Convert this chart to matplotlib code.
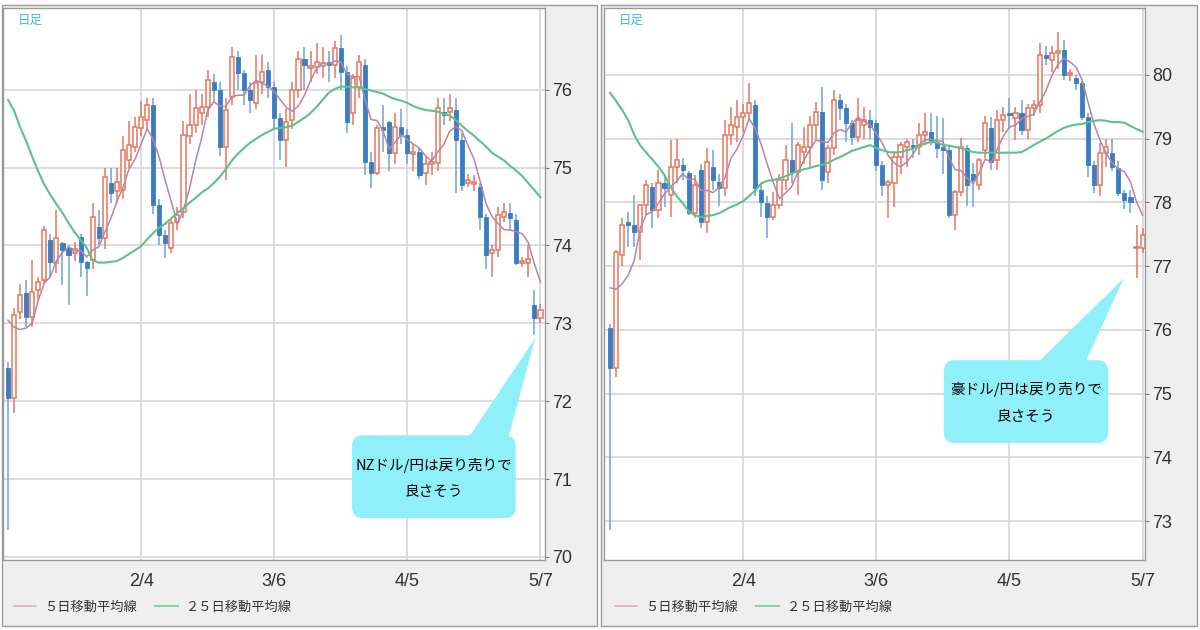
import numpy as np
import pandas as pd
import matplotlib
matplotlib.use("Agg")
import matplotlib.pyplot as plt
from matplotlib import font_manager
from matplotlib.patches import Rectangle, FancyBboxPatch, Polygon

plt.rcParams['font.family'] = ['Noto Sans CJK JP', 'DejaVu Sans']

# business days shown on both charts (2019-01-03 .. 2019-05-07)
dates = pd.bdate_range('2019-01-03', '2019-05-07')
tick_dates = ['2019-02-04', '2019-03-06', '2019-04-05', '2019-05-07']
tick_labels = ['2/4', '3/6', '4/5', '5/7']
legend_labels = ['５日移動平均線', '２５日移動平均線']

# NZD/JPY daily candles
nz_open = [72.43, 72.04, 73.15, 73.39, 73.08, 73.43, 73.56, 74.07, 73.78, 74.03,
           73.97, 73.90, 74.11, 73.79, 73.81, 74.24, 74.10, 74.80, 74.70, 74.71,
           75.10, 75.27, 75.51, 75.61, 75.81, 74.52, 74.14, 73.97, 74.30, 74.43,
           75.40, 75.55, 75.70, 75.78, 76.10, 76.00, 75.27, 75.91, 76.42, 76.22,
           76.00, 75.83, 76.10, 76.26, 76.04, 75.64, 75.36, 75.61, 76.00, 76.39,
           76.28, 76.29, 76.30, 76.36, 76.32, 76.54, 76.23, 75.70, 76.03, 76.32,
           75.07, 74.93, 75.52, 75.58, 75.19, 75.52, 75.42, 75.18, 75.20, 74.93,
           75.04, 75.06, 75.72, 75.71, 75.74, 75.36, 74.80, 74.79, 74.75, 74.37,
           73.90, 73.94, 74.37, 74.42, 74.33, 73.77, 73.78, 73.24, 73.07]
nz_high = [72.50, 73.20, 73.50, 73.55, 73.81, 73.60, 74.25, 74.15, 74.46, 74.05,
           74.00, 74.05, 74.15, 73.80, 74.55, 74.45, 75.00, 75.00, 75.00, 75.40,
           75.60, 75.65, 75.85, 75.90, 75.90, 74.60, 74.20, 74.35, 74.50, 75.60,
           75.95, 76.00, 75.95, 76.25, 76.20, 76.10, 75.90, 76.55, 76.50, 76.25,
           76.10, 76.45, 76.45, 76.35, 76.10, 75.70, 75.75, 76.10, 76.50, 76.55,
           76.50, 76.60, 76.55, 76.50, 76.62, 76.70, 76.30, 76.20, 76.45, 76.40,
           75.20, 75.55, 75.80, 75.60, 75.70, 75.75, 75.50, 75.30, 75.25, 75.15,
           75.20, 75.90, 75.90, 75.95, 75.90, 75.45, 74.92, 74.90, 74.80, 74.40,
           74.00, 74.50, 74.55, 74.55, 74.40, 73.85, 74.00, 73.43, 73.25]
nz_low = [70.34, 71.85, 73.05, 72.95, 72.95, 73.30, 73.50, 73.60, 73.65, 73.49,
          73.24, 73.80, 73.60, 73.35, 73.70, 74.00, 73.95, 74.55, 74.55, 74.60,
          75.00, 75.20, 75.40, 75.50, 74.40, 74.00, 73.84, 73.90, 74.20, 74.35,
          75.30, 75.45, 75.55, 75.65, 75.85, 75.15, 74.84, 75.80, 76.00, 75.80,
          75.70, 75.75, 75.95, 75.90, 75.50, 75.10, 75.01, 75.50, 75.90, 76.00,
          76.10, 76.20, 76.15, 76.10, 76.15, 76.00, 75.45, 75.55, 75.90, 74.90,
          74.74, 74.90, 75.20, 74.95, 75.05, 75.30, 75.05, 74.95, 74.85, 74.78,
          74.90, 74.95, 75.55, 75.60, 74.68, 74.70, 74.75, 74.70, 74.20, 73.70,
          73.60, 73.85, 74.30, 74.20, 73.75, 73.72, 73.60, 72.85, 73.00]
nz_close = [72.04, 73.11, 73.37, 73.08, 73.40, 73.53, 74.20, 73.79, 74.10, 73.94,
            73.88, 73.95, 73.79, 73.71, 74.37, 74.10, 74.88, 74.68, 74.82, 75.23,
            75.29, 75.52, 75.65, 75.81, 74.52, 74.14, 74.03, 74.29, 74.39, 75.42,
            75.55, 75.77, 75.78, 76.13, 76.00, 75.27, 75.74, 76.42, 76.22, 76.00,
            75.87, 76.09, 76.23, 76.04, 75.64, 75.36, 75.58, 76.00, 76.39, 76.32,
            76.31, 76.35, 76.34, 76.32, 76.54, 76.23, 75.58, 76.15, 76.36, 75.07,
            74.93, 75.51, 75.48, 75.19, 75.52, 75.42, 75.19, 75.20, 74.91, 75.04,
            75.07, 75.77, 75.68, 75.77, 75.36, 74.78, 74.84, 74.82, 74.37, 73.88,
            73.94, 74.39, 74.43, 74.35, 73.78, 73.80, 73.82, 73.07, 73.17]
nz_ma5_head = [73.04, 72.95, 72.92, 72.94]   # MA5 before 5 closes are on screen
nz_ma25 = [75.87, 75.73, 75.52, 75.34, 75.14, 74.95, 74.78, 74.65, 74.53, 74.42,
           74.29, 74.17, 74.07, 73.97, 73.81, 73.78, 73.78, 73.79, 73.80, 73.84,
           73.89, 73.94, 73.99, 74.08, 74.16, 74.23, 74.28, 74.35, 74.42, 74.48,
           74.55, 74.61, 74.68, 74.73, 74.80, 74.88, 74.98, 75.09, 75.18, 75.25,
           75.32, 75.37, 75.42, 75.46, 75.50, 75.51, 75.52, 75.54, 75.59, 75.64,
           75.70, 75.78, 75.87, 75.96, 76.01, 76.04, 76.04, 76.03, 76.03, 76.01,
           75.99, 75.97, 75.95, 75.91, 75.88, 75.86, 75.83, 75.79, 75.76, 75.74,
           75.73, 75.72, 75.69, 75.67, 75.61, 75.54, 75.47, 75.41, 75.34, 75.27,
           75.19, 75.14, 75.09, 75.02, 74.96, 74.89, 74.80, 74.71, 74.62]
nz_yticks = [70, 71, 72, 73, 74, 75, 76]

# AUD/JPY daily candles
au_open = [76.03, 75.41, 77.17, 77.70, 77.64, 77.53, 77.96, 78.24, 77.88, 78.30,
           78.11, 78.56, 78.59, 78.46, 77.83, 78.51, 77.69, 78.56, 78.32, 78.23,
           79.06, 79.18, 79.34, 79.40, 79.53, 78.19, 77.99, 77.77, 77.96, 78.35,
           78.66, 78.48, 78.79, 78.87, 79.22, 79.42, 78.48, 78.85, 79.61, 79.48,
           79.25, 79.03, 79.22, 79.30, 79.25, 78.59, 78.27, 78.30, 78.71, 78.87,
           78.90, 78.87, 79.06, 79.11, 78.95, 78.87, 78.82, 77.80, 78.16, 78.85,
           78.45, 78.27, 78.82, 79.17, 78.66, 79.29, 79.38, 79.32, 79.40, 79.13,
           79.48, 79.53, 80.31, 80.24, 80.35, 80.39, 80.00, 79.95, 79.87, 79.34,
           78.59, 78.27, 78.78, 78.78, 78.54, 78.15, 78.08, 77.28, 77.28]
au_high = [76.10, 77.25, 77.75, 77.85, 78.12, 77.98, 78.35, 78.30, 78.51, 78.40,
           78.98, 79.00, 78.70, 78.50, 78.43, 78.60, 78.85, 78.82, 78.45, 79.29,
           79.50, 79.61, 79.55, 79.87, 79.60, 78.30, 78.10, 78.16, 78.45, 78.90,
           79.25, 78.95, 79.18, 79.35, 79.58, 79.81, 78.90, 79.77, 79.70, 79.55,
           79.30, 79.64, 79.50, 79.45, 79.30, 78.65, 78.35, 78.80, 78.95, 79.00,
           79.00, 79.25, 79.40, 79.40, 79.35, 79.32, 78.90, 78.20, 79.01, 78.90,
           78.62, 78.70, 79.35, 79.34, 79.45, 79.50, 79.64, 79.50, 79.61, 79.55,
           79.60, 80.50, 80.45, 80.45, 80.68, 80.55, 80.10, 80.00, 79.90, 79.40,
           78.65, 78.93, 79.00, 79.00, 78.65, 78.20, 78.20, 77.64, 77.60]
au_low = [72.86, 75.26, 77.00, 77.30, 77.30, 77.10, 77.80, 77.60, 77.75, 77.93,
          77.77, 78.30, 78.35, 77.80, 77.75, 77.60, 77.52, 78.20, 77.95, 78.10,
          78.90, 78.95, 79.10, 79.30, 78.10, 77.77, 77.44, 77.72, 77.90, 78.20,
          78.30, 78.12, 78.60, 78.55, 79.00, 78.20, 78.30, 78.75, 79.30, 78.95,
          78.90, 78.95, 79.00, 79.00, 78.50, 78.10, 77.75, 77.93, 78.45, 78.55,
          78.70, 78.75, 78.90, 78.90, 78.70, 78.45, 77.75, 77.56, 78.10, 77.95,
          77.93, 78.20, 78.70, 78.51, 78.51, 79.10, 79.15, 78.98, 79.05, 79.00,
          79.35, 79.40, 80.15, 80.05, 80.10, 79.92, 79.90, 79.76, 79.30, 78.40,
          78.15, 78.10, 78.55, 78.50, 78.10, 77.90, 77.83, 76.81, 77.20]
au_close = [75.41, 77.22, 77.64, 77.65, 77.53, 77.96, 78.27, 77.88, 78.30, 78.23,
            78.56, 78.66, 78.51, 77.83, 78.27, 77.69, 78.63, 78.35, 78.23, 79.06,
            79.22, 79.34, 79.40, 79.56, 78.23, 78.00, 77.77, 77.96, 78.35, 78.66,
            78.48, 78.90, 78.87, 79.22, 79.42, 78.35, 78.85, 79.61, 79.48, 79.25,
            79.03, 79.30, 79.30, 79.18, 78.59, 78.27, 78.32, 78.71, 78.90, 78.95,
            78.87, 79.06, 79.11, 78.95, 78.85, 78.82, 77.80, 78.16, 78.87, 78.27,
            78.35, 78.66, 79.25, 78.63, 79.29, 79.37, 79.37, 79.40, 79.13, 79.48,
            79.53, 80.31, 80.27, 80.35, 80.37, 80.00, 80.03, 79.87, 79.34, 78.59,
            78.27, 78.78, 78.87, 78.56, 78.15, 78.04, 78.00, 77.30, 77.49]
au_ma5_head = [76.66, 76.64, 76.72, 76.86]
au_ma25 = [79.72, 79.59, 79.45, 79.29, 79.06, 78.89, 78.78, 78.67, 78.56, 78.43,
           78.24, 78.10, 77.99, 77.86, 77.80, 77.77, 77.79, 77.80, 77.83, 77.88,
           77.93, 77.97, 78.02, 78.10, 78.19, 78.30, 78.34, 78.35, 78.38, 78.41,
           78.45, 78.49, 78.52, 78.54, 78.57, 78.59, 78.62, 78.67, 78.71, 78.76,
           78.81, 78.84, 78.87, 78.90, 78.85, 78.82, 78.79, 78.78, 78.79, 78.82,
           78.84, 78.89, 78.92, 78.95, 78.94, 78.90, 78.89, 78.87, 78.85, 78.82,
           78.79, 78.78, 78.78, 78.78, 78.78, 78.78, 78.78, 78.78, 78.79, 78.84,
           78.90, 78.95, 79.00, 79.06, 79.12, 79.17, 79.20, 79.22, 79.23, 79.26,
           79.28, 79.29, 79.28, 79.26, 79.26, 79.25, 79.20, 79.15, 79.11]
au_yticks = [73, 74, 75, 76, 77, 78, 79, 80]

# colours
UP_COL = '#e5775f'
DN_COL = '#3a7dc0'
DN_WICK = '#6ea3d8'
MA5_COL = '#b884a8'
MA25_COL = '#5cc28c'
CALLOUT = '#8ff0fa'
PANEL_BG = '#efefef'
FRAME = '#9a9a9a'

names = {f.name for f in font_manager.fontManager.ttflist}
NUM_FONT = 'Liberation Sans Narrow' if 'Liberation Sans Narrow' in names else 'Liberation Sans'

W, H = 1200, 630
fig = plt.figure(figsize=(W / 100, H / 100), dpi=100)
fig.patch.set_facecolor('white')


def px_rect(x0, y0, x1, y1):
    # pixel box (top-left origin) -> figure fraction [left, bottom, width, height]
    return [x0 / W, (H - y1) / H, (x1 - x0) / W, (y1 - y0) / H]


def draw_panel(frame, plot, o, hi, lo, c, ma5_head, ma25, yticks, ylim, xlim,
               note, box, base, tip):
    l, b, w, h = px_rect(*frame)
    fig.add_artist(Rectangle((l, b), w, h, transform=fig.transFigure,
                             facecolor=PANEL_BG, edgecolor=FRAME, lw=1, zorder=0))
    ax = fig.add_axes(px_rect(*plot))
    ax.set_facecolor('white')

    o, hi, lo, c = map(np.array, (o, hi, lo, c))
    x = np.arange(len(c))
    up = c >= o
    ax.vlines(x[up], lo[up], hi[up], color=UP_COL, lw=1.1, zorder=2)
    ax.vlines(x[~up], lo[~up], hi[~up], color=DN_WICK, lw=1.1, zorder=2)
    body_lo = np.minimum(o, c)
    body_h = np.maximum(np.abs(c - o), 0.025)
    ax.bar(x[up], body_h[up], bottom=body_lo[up], width=0.68,
           facecolor='white', edgecolor=UP_COL, lw=1.1, zorder=3)
    ax.bar(x[~up], body_h[~up], bottom=body_lo[~up], width=0.68,
           facecolor=DN_COL, edgecolor=DN_COL, lw=0.6, zorder=3)

    ma5 = pd.Series(c).rolling(5).mean().to_numpy()
    ma5[:4] = ma5_head
    l5, = ax.plot(x, ma5, color=MA5_COL, lw=1.1, zorder=4, label=legend_labels[0])
    l25, = ax.plot(x, ma25, color=MA25_COL, lw=1.5, zorder=4, label=legend_labels[1])

    ax.set_xlim(*xlim)
    ax.set_ylim(*ylim)
    ax.set_yticks(yticks)
    ax.yaxis.tick_right()
    ax.tick_params(axis='y', length=3, width=0.8, color='#777777', pad=2,
                   labelsize=13, labelcolor='#333333')
    ax.set_xticks([dates.get_loc(pd.Timestamp(d)) for d in tick_dates])
    ax.set_xticklabels(tick_labels)
    ax.tick_params(axis='x', length=0, pad=9, labelsize=13, labelcolor='#333333')
    for lab in ax.get_xticklabels() + ax.get_yticklabels():
        lab.set_fontfamily(NUM_FONT)
    ax.grid(True, color='#d6d6d6', lw=1.2)
    ax.set_axisbelow(True)
    for s in ax.spines.values():
        s.set_color(FRAME)
        s.set_linewidth(1)

    ax.text(0.028, 0.978, '日足', transform=ax.transAxes, color='#45b5e0',
            fontsize=9, va='center', ha='left')

    leg = ax.legend(handles=[l5, l25], loc='center left', bbox_to_anchor=(0.01, -0.085),
                    ncol=2, frameon=False, fontsize=9.5, handlelength=1.7,
                    handletextpad=0.6, columnspacing=1.4, borderaxespad=0)
    leg.get_lines()[0].set_color('#d9aabd')
    leg.get_lines()[1].set_color('#86d3aa')
    for t in leg.get_texts():
        t.set_color('#333333')

    # speech bubble (axes-fraction coordinates)
    x0, y0, x1, y1 = box
    ax.add_patch(FancyBboxPatch((x0, y0), x1 - x0, y1 - y0,
                                boxstyle='round,pad=0,rounding_size=0.02',
                                transform=ax.transAxes, fc=CALLOUT, ec='none',
                                zorder=6, clip_on=False))
    ax.add_patch(Polygon([base[0], base[1], tip], closed=True, transform=ax.transAxes,
                         fc=CALLOUT, ec='none', zorder=6))
    cx = (x0 + x1) / 2
    ax.text(cx, y0 + (y1 - y0) * 0.64, note[0], transform=ax.transAxes, ha='center',
            va='center', fontsize=10.5, color='black', zorder=7)
    ax.text(cx, y0 + (y1 - y0) * 0.32, note[1], transform=ax.transAxes, ha='center',
            va='center', fontsize=10.5, color='black', zorder=7)
    return ax


draw_panel((2, 5, 597, 626), (3, 8, 545, 560),
           nz_open, nz_high, nz_low, nz_close, nz_ma5_head, nz_ma25,
           nz_yticks, (69.96, 77.05), (-0.83, 88.75),
           ['NZドル/円は戻り売りで', '良さそう'],
           (0.644, 0.076, 0.946, 0.226),
           [(0.858, 0.22), (0.932, 0.22)], (0.982, 0.402))

draw_panel((601, 5, 1197, 626), (604, 8, 1145, 560),
           au_open, au_high, au_low, au_close, au_ma5_head, au_ma25,
           au_yticks, (72.39, 81.05), (-1.0, 88.4),
           ['豪ドル/円は戻り売りで', '良さそう'],
           (0.628, 0.212, 0.932, 0.362),
           [(0.800, 0.356), (0.889, 0.356)], (0.961, 0.511))

fig.savefig('out.png', dpi=100, facecolor='white')
